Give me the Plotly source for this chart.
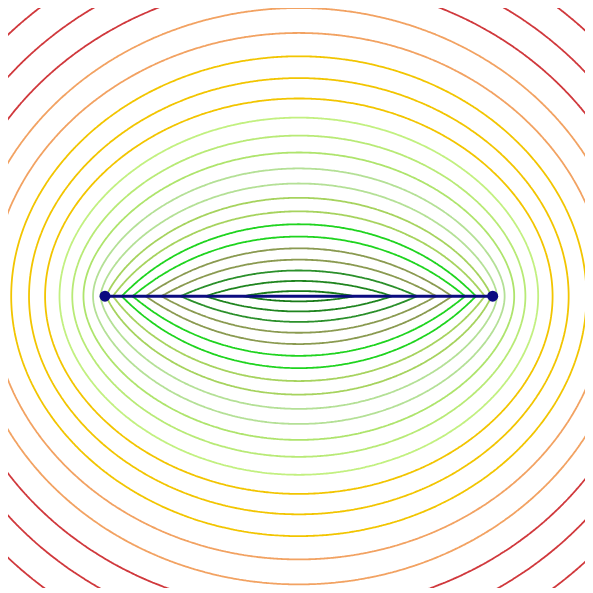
import numpy as np
import plotly.graph_objects as go

# Charged segment (plate cross-section) endpoints
SEG_X = [-1.0, 1.0]
SEG_Y = [0.0, 0.0]

# Visible window (segment units)
X_RANGE = [-1.5003, 1.4968]
Y_RANGE = [-1.5053, 1.4867]

# Extent of the computed field grid
GRID_X = [-1.53, 1.53]
GRID_Y = [-1.53, 1.53]
N_GRID = 261

# Contour levels of the potential (equally spaced)
LEVEL_START = -1.917
LEVEL_STEP = 0.158
N_LEVELS = 22

# Colour of each contour level, from innermost to outermost
LEVEL_COLORS = [
    "#187a18", "#1f851f", "#2b902b",          # dark greens
    "#8a9a50", "#8a9a50",                     # olive
    "#1fd41f", "#1fd41f",                     # bright green
    "#a6d35e", "#a6d35e",                     # yellow-green
    "#b4e096", "#b4e096",                     # pale green
    "#aee46c", "#b8ea76", "#c2f080",          # light lime
    "#f2c500", "#f2c500", "#f2c500",          # gold
    "#f2a262", "#f2a262",                     # sandy orange
    "#d0383c", "#d0383c", "#d0383c",          # red
]

levels = [LEVEL_START + i * LEVEL_STEP for i in range(N_LEVELS)]

xs = np.linspace(GRID_X[0], GRID_X[1], N_GRID)
ys = np.linspace(GRID_Y[0], GRID_Y[1], N_GRID)
X, Y = np.meshgrid(xs, ys)
AY = np.abs(Y - SEG_Y[0])


def prim(u):
    r2 = np.maximum(u * u + AY * AY, 1e-300)
    return 0.5 * u * np.log(r2) - u + AY * np.arctan2(u, AY)


# 2D logarithmic potential of a uniformly charged segment
Z = prim(SEG_X[1] - X) - prim(SEG_X[0] - X)

nl = len(levels)
colorscale = []
for k, c in enumerate(LEVEL_COLORS):
    lo = max(0.0, (k - 0.5) / (nl - 1))
    hi = min(1.0, (k + 0.5) / (nl - 1))
    colorscale.append([lo, c])
    colorscale.append([hi, c])

fig = go.Figure()
fig.add_trace(go.Contour(
    x=xs, y=ys, z=Z,
    autocontour=False,
    contours=dict(start=levels[0], end=levels[-1] + 1e-9, size=LEVEL_STEP,
                  coloring="lines"),
    colorscale=colorscale,
    zmin=levels[0], zmax=levels[-1],
    line=dict(width=1.8),
    showscale=False,
    hoverinfo="skip",
))
fig.add_trace(go.Scatter(
    x=SEG_X, y=SEG_Y, mode="lines+markers",
    line=dict(color="#0b0b80", width=3),
    marker=dict(color="#0b0b80", size=11),
    showlegend=False, hoverinfo="skip",
))

fig.update_xaxes(range=X_RANGE, visible=False, showgrid=False, zeroline=False)
fig.update_yaxes(range=Y_RANGE, visible=False, showgrid=False, zeroline=False)
fig.update_layout(
    width=585, height=585,
    margin=dict(l=0, r=4, t=0, b=5),
    paper_bgcolor="white", plot_bgcolor="white",
    showlegend=False,
)
fig.write_html("out.html")
